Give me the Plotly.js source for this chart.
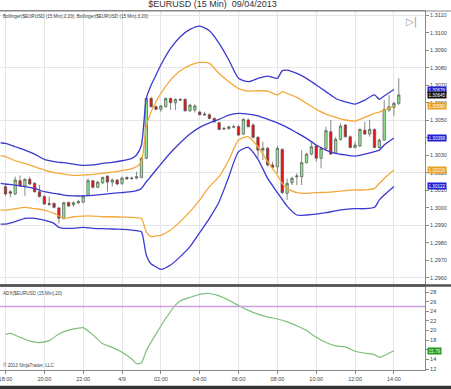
<!DOCTYPE html>
<html><head><meta charset="utf-8">
<script src="https://cdn.plot.ly/plotly-3.0.1.min.js"></script>
<style>html,body{margin:0;padding:0;background:#fff}#chart{width:451px;height:389px}</style>
</head><body><div id="chart"></div>
<script>
// ---- data ----
const chartTitle = '$EURUSD (15 Min)  09/04/2013';
const startUTC = Date.UTC(2013, 3, 8, 18, 0);   // first bar 18:00 on 4/8
const barMinutes = 15;

const open  = [1.30121,1.30092,1.30079,1.30155,1.30124,1.30163,1.30140,1.30092,1.30064,1.30024,
               1.30026,1.29999,1.29938,1.30031,1.30018,1.30029,1.30033,1.30071,1.30155,1.30117,
               1.30143,1.30182,1.30147,1.30159,1.30140,1.30174,1.30170,1.30170,1.30174,1.30283,
               1.30625,1.30578,1.30563,1.30578,1.30625,1.30601,1.30620,1.30620,1.30555,1.30559,
               1.30547,1.30536,1.30532,1.30511,1.30486,1.30454,1.30452,1.30464,1.30464,1.30422,
               1.30502,1.30473,1.30403,1.30330,1.30340,1.30245,1.30235,1.30334,1.30083,1.30143,
               1.30178,1.30178,1.30258,1.30307,1.30353,1.30283,1.30340,1.30435,1.30311,1.30391,
               1.30473,1.30406,1.30345,1.30353,1.30444,1.30422,1.30448,1.30345,1.30387,1.30559,
               1.30574,1.30597];
const high  = [1.30130,1.30101,1.30178,1.30185,1.30168,1.30178,1.30147,1.30130,1.30073,1.30064,
               1.30029,1.30006,1.30035,1.30035,1.30037,1.30045,1.30073,1.30168,1.30159,1.30153,
               1.30178,1.30185,1.30168,1.30163,1.30178,1.30178,1.30178,1.30206,1.30292,1.30631,
               1.30635,1.30587,1.30587,1.30631,1.30631,1.30625,1.30625,1.30624,1.30593,1.30593,
               1.30555,1.30549,1.30540,1.30517,1.30492,1.30464,1.30467,1.30473,1.30473,1.30511,
               1.30511,1.30483,1.30410,1.30378,1.30349,1.30264,1.30353,1.30340,1.30168,1.30178,
               1.30197,1.30330,1.30315,1.30378,1.30359,1.30349,1.30464,1.30502,1.30406,1.30483,
               1.30479,1.30414,1.30378,1.30454,1.30492,1.30502,1.30454,1.30397,1.30616,1.30645,
               1.30606,1.30740];
const low   = [1.30068,1.30060,1.30073,1.30121,1.30068,1.30130,1.30087,1.30060,1.30018,1.30010,
               1.29997,1.29911,1.29934,1.30006,1.30006,1.30022,1.30026,1.30068,1.30111,1.30113,
               1.30136,1.30092,1.30121,1.30130,1.30130,1.30159,1.30159,1.30163,1.30168,1.30277,
               1.30574,1.30559,1.30549,1.30574,1.30559,1.30559,1.30612,1.30549,1.30549,1.30544,
               1.30528,1.30525,1.30506,1.30486,1.30444,1.30444,1.30448,1.30454,1.30410,1.30416,
               1.30460,1.30397,1.30283,1.30273,1.30235,1.30220,1.30197,1.30079,1.30045,1.30130,
               1.30130,1.30130,1.30254,1.30300,1.30264,1.30226,1.30330,1.30302,1.30307,1.30384,
               1.30403,1.30340,1.30340,1.30349,1.30416,1.30406,1.30340,1.30340,1.30384,1.30549,
               1.30525,1.30587];
const close = [1.30079,1.30083,1.30159,1.30124,1.30163,1.30136,1.30092,1.30064,1.30022,1.30020,
               1.30003,1.29941,1.30029,1.30010,1.30029,1.30035,1.30068,1.30155,1.30117,1.30147,
               1.30174,1.30147,1.30159,1.30136,1.30170,1.30166,1.30168,1.30178,1.30283,1.30625,
               1.30578,1.30563,1.30582,1.30625,1.30601,1.30620,1.30616,1.30555,1.30587,1.30582,
               1.30532,1.30532,1.30511,1.30492,1.30448,1.30452,1.30464,1.30462,1.30416,1.30506,
               1.30464,1.30403,1.30330,1.30340,1.30245,1.30231,1.30340,1.30087,1.30140,1.30168,
               1.30182,1.30258,1.30307,1.30349,1.30283,1.30340,1.30441,1.30307,1.30391,1.30467,
               1.30406,1.30345,1.30359,1.30448,1.30422,1.30448,1.30345,1.30387,1.30563,1.30578,
               1.30597,1.30645];

// Bollinger bands, read at these bar numbers
const bandBars = [-1,0,2,4,6,8,10,11,12,14,16,18,20,22,24,26,27,28,29,30,31,32,34,36,38,40,42,44,46,48,50,52,54,56,57,58,60,62,64,66,68,70,72,74,76,77,78,80];
const upper3 = [1.30372,1.30368,1.30349,1.30330,1.30307,1.30277,1.30264,1.30260,1.30258,1.30250,1.30243,1.30245,1.30254,1.30260,1.30269,1.30283,1.30302,1.30359,1.30625,1.30702,1.30759,1.30816,1.30911,1.30978,1.31020,1.31039,1.31012,1.30940,1.30845,1.30740,1.30721,1.30740,1.30753,1.30740,1.30784,1.30787,1.30768,1.30740,1.30702,1.30664,1.30625,1.30606,1.30593,1.30616,1.30645,1.30620,1.30639,1.30676];
const upper2 = [1.30298,1.30292,1.30269,1.30254,1.30235,1.30216,1.30201,1.30197,1.30193,1.30185,1.30187,1.30191,1.30197,1.30204,1.30212,1.30224,1.30235,1.30264,1.30464,1.30549,1.30606,1.30654,1.30730,1.30784,1.30814,1.30831,1.30826,1.30768,1.30721,1.30681,1.30667,1.30669,1.30667,1.30645,1.30664,1.30654,1.30631,1.30597,1.30563,1.30536,1.30517,1.30502,1.30496,1.30517,1.30540,1.30547,1.30559,1.30580];
const middle = [1.30140,1.30136,1.30130,1.30121,1.30111,1.30092,1.30083,1.30079,1.30073,1.30068,1.30068,1.30071,1.30077,1.30083,1.30087,1.30092,1.30098,1.30111,1.30149,1.30182,1.30216,1.30250,1.30315,1.30372,1.30422,1.30460,1.30486,1.30506,1.30530,1.30540,1.30536,1.30525,1.30506,1.30486,1.30473,1.30460,1.30429,1.30397,1.30359,1.30330,1.30311,1.30302,1.30296,1.30307,1.30321,1.30330,1.30359,1.30399];
const lower2 = [1.29987,1.29987,1.29995,1.30003,1.29995,1.29987,1.29968,1.29953,1.29940,1.29949,1.29953,1.29953,1.29949,1.29949,1.29947,1.29945,1.29943,1.29940,1.29863,1.29835,1.29839,1.29843,1.29873,1.29921,1.29978,1.30045,1.30121,1.30178,1.30273,1.30387,1.30406,1.30349,1.30264,1.30187,1.30140,1.30111,1.30087,1.30083,1.30087,1.30088,1.30092,1.30098,1.30102,1.30102,1.30111,1.30140,1.30168,1.30216];
const lower3 = [1.29907,1.29907,1.29921,1.29940,1.29940,1.29930,1.29911,1.29888,1.29883,1.29883,1.29888,1.29883,1.29881,1.29879,1.29877,1.29873,1.29869,1.29863,1.29730,1.29679,1.29663,1.29648,1.29673,1.29721,1.29778,1.29858,1.29940,1.30035,1.30178,1.30321,1.30345,1.30277,1.30168,1.30087,1.30048,1.30010,1.29959,1.29959,1.29964,1.29972,1.29983,1.29991,1.29995,1.29995,1.30003,1.30045,1.30073,1.30122];

// ADX(20), read at these bar numbers
const adxBars = [0,1,3,5,7,9,11,13,15,16,18,20,22,24,26,27,28,29,31,33,35,36,38,40,42,44,46,48,50,52,54,56,58,60,62,64,66,68,70,72,74,76,77,78,80];
const adx     = [19.2,19.4,18.6,17.8,17.5,17.9,19.3,20.1,20.5,20.6,19.1,17.3,16.5,15.5,14.1,13.1,13.3,15.8,19.3,22.5,25.3,26.2,26.9,27.5,27.7,27.2,26.3,25.2,24.2,23.4,22.8,22.4,21.8,21.0,20.0,18.6,17.5,16.8,16.6,15.7,15.3,15.0,14.4,14.8,15.79];
const adxLevel = 25;

const tickBars  = [0,8,16,24,32,40,48,56,64,72,80];
const tickText  = ['18:00','20:00','22:00','4/9','02:00','04:00','06:00','08:00','10:00','12:00','14:00'];

// ---- helpers ----
function timeAt(i){
  const d = new Date(startUTC + i*barMinutes*60000);
  return d.toISOString().slice(0,19).replace('T',' ');
}
const barTimes  = close.map((_, i) => timeAt(i));
const bandTimes = bandBars.map(timeAt);
const adxTimes  = adxBars.map(timeAt);

const BLUE = '#3a3ad0', ORANGE = '#f4a93a', GRID = '#e6e6e6', TXT = '#444';
const FONT = 'Liberation Sans, Arial, sans-serif';

function band(y, color){
  return {type:'scatter', mode:'lines', x:bandTimes, y:y, xaxis:'x2', yaxis:'y',
          line:{color:color, width:1.3, shape:'spline', smoothing:0.6}, hoverinfo:'skip'};
}

const traces = [
  band(upper3, BLUE), band(upper2, ORANGE), band(middle, BLUE), band(lower2, ORANGE), band(lower3, BLUE),
  {type:'candlestick', x:barTimes, open:open, high:high, low:low, close:close, xaxis:'x2', yaxis:'y',
   increasing:{fillcolor:'#90e890', line:{color:'#555', width:0.7}},
   decreasing:{fillcolor:'#ee1111', line:{color:'#555', width:0.7}}, whiskerwidth:0},
  // carrier for the coarse price grid axis
  {type:'scatter', mode:'lines', x:barTimes, y:close, xaxis:'x2', yaxis:'y3', opacity:0, hoverinfo:'skip', line:{width:0}},
  {type:'scatter', mode:'lines', x:adxTimes, y:adx, xaxis:'x', yaxis:'y2',
   line:{color:'#7cc07c', width:1.2, shape:'spline', smoothing:0.6}, hoverinfo:'skip'}
];

const xRange = [timeAt(-1.13), timeAt(86.4)];
const yMain = [1.295646, 1.31125];
const yAdx  = [11.8, 29.05];

const annotations = [
  {text:'Bollinger($EURUSD (15 Min),2,20), Bollinger($EURUSD (15 Min),3,20)', xref:'paper', yref:'paper', x:0, y:1, xanchor:'left', yanchor:'top', xshift:1, yshift:-1, showarrow:false, font:{size:4.6, color:TXT, family:FONT}},
  {text:'ADX($EURUSD (15 Min),20)', xref:'paper', yref:'y2 domain', x:0, y:1, xanchor:'left', yanchor:'top', xshift:1, yshift:-2, showarrow:false, font:{size:4.6, color:TXT, family:FONT}},
  {text:'© 2013 NinjaTrader, LLC', xref:'paper', yref:'y2 domain', x:0, y:0, xanchor:'left', yanchor:'bottom', xshift:1, yshift:0, showarrow:false, font:{size:4.6, color:TXT, family:FONT}},
  {text:'▷|', xref:'paper', yref:'paper', x:1, y:1, xanchor:'right', yanchor:'top', xshift:-6, yshift:-3, showarrow:false, font:{size:10, color:'#999', family:'DejaVu Sans'}}
];
function priceTag(val, bg, axis, digits){
  annotations.push({text:val.toFixed(digits), xref:'paper', yref:axis, x:1, y:val, xanchor:'left', yanchor:'middle', xshift:2,
    showarrow:false, bgcolor:bg, borderpad:0.5, font:{size:4.6, color:'#fff', family:FONT}});
}
priceTag(upper3[upper3.length-1], '#2020d0', 'y', 5);
priceTag(close[close.length-1], '#111', 'y', 5);
priceTag(upper2[upper2.length-1], '#e8a020', 'y', 5);
priceTag(middle[middle.length-1], '#2020d0', 'y', 5);
priceTag(lower2[lower2.length-1], '#e8a020', 'y', 5);
priceTag(lower3[lower3.length-1], '#2020d0', 'y', 5);
priceTag(adx[adx.length-1], '#1a9a1a', 'y2', 2);

const layout = {
  width:451, height:389,
  margin:{l:0, r:26, t:11, b:19},
  paper_bgcolor:'#fff', plot_bgcolor:'#fff', showlegend:false,
  font:{family:FONT, color:TXT},
  title:{text:chartTitle, x:0.5, xanchor:'center', xref:'paper', y:1, yref:'container', yanchor:'top', pad:{t:1}, font:{size:9, color:'#333', family:FONT}},
  xaxis:{type:'date', anchor:'y2', range:xRange, rangeslider:{visible:false}, tickvals:tickBars.map(timeAt), ticktext:tickText,
         ticklabeloverflow:'allow',
         showgrid:true, gridcolor:GRID, ticks:'outside', ticklen:3, tickcolor:'#888', tickfont:{size:5.5, color:TXT},
         showline:true, linecolor:'#888', linewidth:1, mirror:true, zeroline:false},
  xaxis2:{type:'date', anchor:'y', range:xRange, rangeslider:{visible:false}, tickvals:tickBars.map(timeAt), ticktext:tickText,
         showticklabels:false, ticks:'', showgrid:true, gridcolor:GRID, showline:true, linecolor:'#888', mirror:true, zeroline:false},
  yaxis:{domain:[0.2396, 1], anchor:'x2', side:'right', range:yMain, dtick:0.001, tick0:1.296, tickformat:'.4f',
         showgrid:false, ticks:'outside', ticklen:3, tickcolor:'#888', tickfont:{size:5.5, color:TXT},
         showline:true, linecolor:'#888', mirror:true, zeroline:false},
  yaxis3:{overlaying:'y', anchor:'x2', side:'right', range:yMain, dtick:0.003, tick0:1.296, showgrid:true, gridcolor:GRID,
         showticklabels:false, ticks:'', showline:false, zeroline:false},
  yaxis2:{domain:[0, 0.2312], anchor:'x', side:'right', range:yAdx, dtick:2, tick0:0,
         showgrid:false, ticks:'outside', ticklen:3, tickcolor:'#888', tickfont:{size:5.5, color:TXT},
         showline:true, linecolor:'#888', mirror:true, zeroline:false},
  shapes:[
    {type:'line', xref:'x domain', yref:'y2', x0:0, x1:1, y0:adxLevel, y1:adxLevel, line:{color:'#c9a0dc', width:1.6}},
    {type:'line', xref:'paper', yref:'paper', x0:0, x1:1.0612, y0:1, y1:1, line:{color:'#888', width:1}},
    {type:'line', xref:'paper', yref:'paper', x0:0, x1:1.0612, y0:0.2354, y1:0.2354, line:{color:'#555', width:2.5}},
    {type:'rect', xref:'paper', yref:'paper', x0:-0.01, x1:1.07, y0:-0.044, y1:-0.07, fillcolor:'#333', line:{width:0}}
  ],
  annotations:annotations
};

Plotly.newPlot('chart', traces, layout, {displayModeBar:false, staticPlot:true});
</script>
</body></html>
